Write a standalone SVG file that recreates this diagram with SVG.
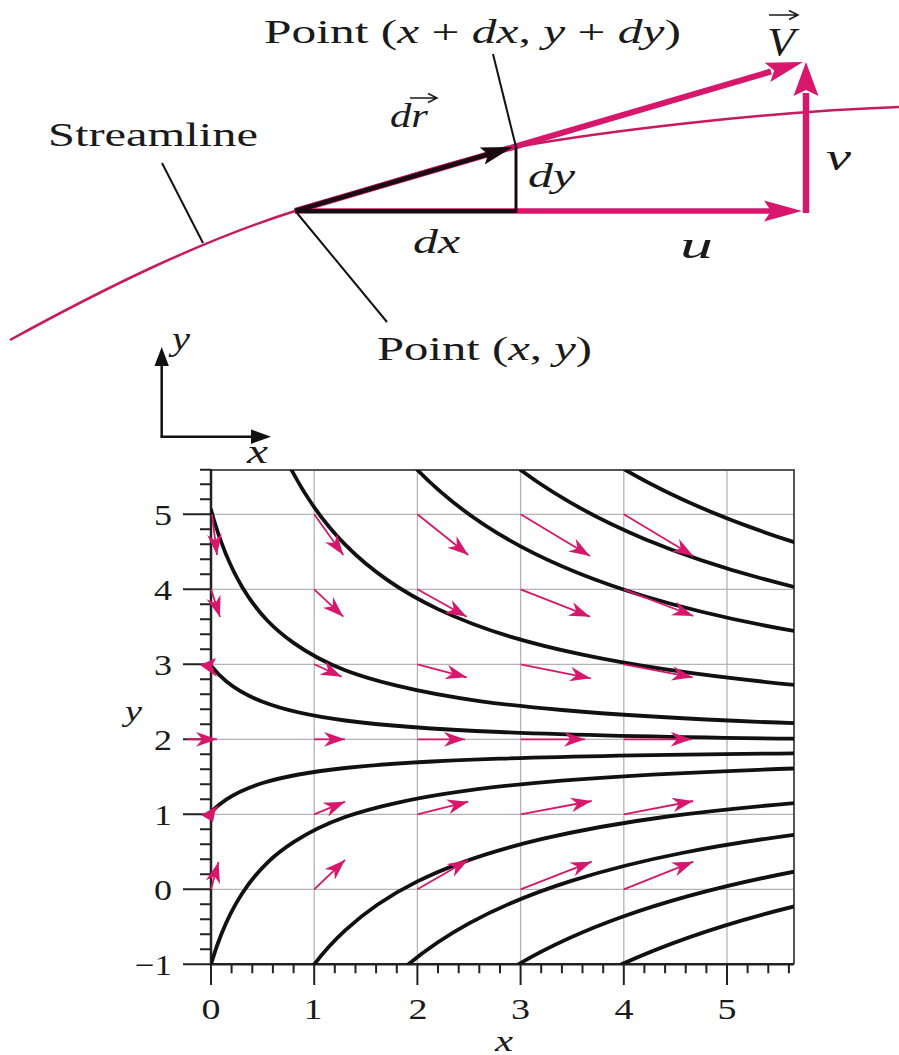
<svg xmlns="http://www.w3.org/2000/svg" width="899" height="1055" viewBox="0 0 899 1055">
<defs>
<style>
.t{font-family:"Liberation Serif","Times New Roman",serif;fill:#1a1a1a}
.it{font-style:italic}
.grid{stroke:#b4b4b4;stroke-width:1.3;fill:none}
.sl{fill:none;stroke:#111;stroke-width:3.8;stroke-linecap:round}
.vec{stroke:#d6176b;stroke-width:1.8;fill:none;marker-end:url(#ah)}
.tick{stroke:#222;stroke-width:2;fill:none}
.lead{stroke:#111;stroke-width:2;fill:none}
.pk{fill:#d6176b}
</style>
<marker id="ah" viewBox="0 0 20 14" refX="20" refY="7" markerWidth="21" markerHeight="15" markerUnits="userSpaceOnUse" orient="auto">
<path d="M0,0 L20,7 L0,14 L6,7 Z" fill="#d6176b"/>
</marker>
<clipPath id="plotclip"><rect x="211" y="470" width="583" height="494.3"/></clipPath>
</defs>
<rect width="899" height="1055" fill="#fff"/>

<g id="top-diagram">
  <path id="streamline-curve" d="M10,340 C105,288 200,241 295,211 C370,188 450,161 516,147 C600,132 760,112 899,107" fill="none" stroke="#c81a5e" stroke-width="2.5"/>
  <g id="vector-V">
    <line x1="295" y1="211" x2="771" y2="71.5" stroke="#d6176b" stroke-width="6"/>
    <polygon points="803,62 764.7,62.8 774.2,70.4 770.3,82" fill="#d6176b"/>
  </g>
  <g id="vector-u">
    <line x1="295" y1="211" x2="772" y2="211" stroke="#d6176b" stroke-width="5.5"/>
    <polygon points="802,211 764,200.5 771,211 764,221.5" fill="#d6176b"/>
  </g>
  <g id="vector-v">
    <line x1="806" y1="213" x2="806" y2="93" stroke="#d6176b" stroke-width="6.5"/>
    <polygon points="806,62 793.5,96 806,90 818.5,96" fill="#d6176b"/>
  </g>
  <g id="vector-dr">
    <line x1="295" y1="211" x2="489" y2="154" stroke="#1a0a10" stroke-width="4.5"/>
    <polygon points="513,147 479.8,147.4 488.1,154.3 484.8,164.6" fill="#1a0a10"/>
  </g>
  <line id="dx-line" x1="295" y1="211" x2="516" y2="211" stroke="#1a0a10" stroke-width="4"/>
  <line id="dy-line" x1="516" y1="147" x2="516" y2="212.5" stroke="#1a0a10" stroke-width="3"/>
  <g id="leaders">
    <line class="lead" x1="162" y1="163" x2="203" y2="243"/>
    <line class="lead" x1="297" y1="213" x2="387" y2="322"/>
    <line class="lead" x1="493" y1="54" x2="516" y2="147"/>
  </g>
  <g id="labels-top">
    <text class="t" x="264" y="43" font-size="34" textLength="417" lengthAdjust="spacingAndGlyphs">Point (<tspan class="it">x</tspan> + <tspan class="it">dx</tspan>, <tspan class="it">y</tspan> + <tspan class="it">dy</tspan>)</text>
    <text class="t" x="48" y="146" font-size="33" textLength="210" lengthAdjust="spacingAndGlyphs">Streamline</text>
    <g id="label-dr">
      <text class="t it" x="390" y="127" font-size="34" textLength="38" lengthAdjust="spacingAndGlyphs">dr</text>
      <path d="M410,98 H436 M428,93.5 L437,98 L428,102.5" stroke="#1a1a1a" stroke-width="1.5" fill="none"/>
    </g>
    <g id="label-V">
      <text class="t it" x="767" y="55" font-size="40" textLength="28" lengthAdjust="spacingAndGlyphs">V</text>
      <path d="M769,15 H797 M789,10.5 L798,15 L789,19.5" stroke="#1a1a1a" stroke-width="1.5" fill="none"/>
    </g>
    <text class="t it" x="528" y="187" font-size="33" textLength="47" lengthAdjust="spacingAndGlyphs">dy</text>
    <text class="t it" x="413" y="253" font-size="33" textLength="47" lengthAdjust="spacingAndGlyphs">dx</text>
    <text class="t it" x="680" y="258" font-size="38" textLength="33" lengthAdjust="spacingAndGlyphs">u</text>
    <text class="t it" x="826" y="170" font-size="38" textLength="25" lengthAdjust="spacingAndGlyphs">v</text>
    <text class="t" x="377" y="360" font-size="34" textLength="215" lengthAdjust="spacingAndGlyphs">Point (<tspan class="it">x</tspan>, <tspan class="it">y</tspan>)</text>
  </g>
</g>

<g id="axes-indicator">
  <line x1="161.7" y1="437" x2="161.7" y2="364" stroke="#111" stroke-width="2.5"/>
  <polygon points="161.7,347 154.5,366 168.9,366" fill="#111"/>
  <line x1="160.5" y1="436.7" x2="253" y2="436.7" stroke="#111" stroke-width="2.5"/>
  <polygon points="271,436.7 251,429.5 251,443.9" fill="#111"/>
  <text class="t it" x="172" y="350" font-size="34" textLength="18" lengthAdjust="spacingAndGlyphs">y</text>
  <text class="t it" x="247" y="463" font-size="34" textLength="21" lengthAdjust="spacingAndGlyphs">x</text>
</g>

<g id="plot">
  <g id="gridlines">
    <path class="grid" d="M314.2,470V964.3M417.4,470V964.3M520.6,470V964.3M623.8,470V964.3M727,470V964.3"/>
    <path class="grid" d="M211,889.3H794M211,814.3H794M211,739.3H794M211,664.3H794M211,589.3H794M211,514.3H794"/>
  </g>
  <g id="frame">
    <path d="M211,470H794V964.3" fill="none" stroke="#555" stroke-width="2"/>
    <path d="M211,469V964.3H794" fill="none" stroke="#222" stroke-width="2.5"/>
  </g>
  <g id="ticks">
    <path class="tick" d="M183,964.3H211M183,889.3H211M183,814.3H211M183,739.3H211M183,664.3H211M183,589.3H211M183,514.3H211"/>
    <path class="tick" d="M200,949.3h11M200,934.3h11M200,919.3h11M200,904.3h11M200,874.3h11M200,859.3h11M200,844.3h11M200,829.3h11M200,799.3h11M200,784.3h11M200,769.3h11M200,754.3h11M200,724.3h11M200,709.3h11M200,694.3h11M200,679.3h11M200,649.3h11M200,634.3h11M200,619.3h11M200,604.3h11M200,574.3h11M200,559.3h11M200,544.3h11M200,529.3h11M200,499.3h11M200,484.3h11M200,469.8h11"/>
    <path class="tick" d="M211,964.3V985M314.2,964.3V985M417.4,964.3V985M520.6,964.3V985M623.8,964.3V985M727,964.3V985"/>
    <path class="tick" d="M231.6,964.3v9M252.3,964.3v9M272.9,964.3v9M293.6,964.3v9M334.8,964.3v9M355.5,964.3v9M376.1,964.3v9M396.8,964.3v9M438,964.3v9M458.7,964.3v9M479.3,964.3v9M500,964.3v9M541.2,964.3v9M561.9,964.3v9M582.5,964.3v9M603.2,964.3v9M644.4,964.3v9M665.1,964.3v9M685.7,964.3v9M706.4,964.3v9M747.6,964.3v9M768.3,964.3v9M788.9,964.3v9"/>
  </g>
  <g id="tick-labels" class="t" font-size="30">
    <text x="172" y="525" text-anchor="end" textLength="18" lengthAdjust="spacingAndGlyphs">5</text>
    <text x="172" y="600" text-anchor="end" textLength="18" lengthAdjust="spacingAndGlyphs">4</text>
    <text x="172" y="674.5" text-anchor="end" textLength="18" lengthAdjust="spacingAndGlyphs">3</text>
    <text x="172" y="749.5" text-anchor="end" textLength="18" lengthAdjust="spacingAndGlyphs">2</text>
    <text x="172" y="824.5" text-anchor="end" textLength="18" lengthAdjust="spacingAndGlyphs">1</text>
    <text x="172" y="899.5" text-anchor="end" textLength="18" lengthAdjust="spacingAndGlyphs">0</text>
    <text x="172" y="974.5" text-anchor="end" textLength="37" lengthAdjust="spacingAndGlyphs">−1</text>
    <text x="211" y="1019" text-anchor="middle" textLength="19" lengthAdjust="spacingAndGlyphs">0</text>
    <text x="313" y="1019" text-anchor="middle" textLength="19" lengthAdjust="spacingAndGlyphs">1</text>
    <text x="418" y="1019" text-anchor="middle" textLength="19" lengthAdjust="spacingAndGlyphs">2</text>
    <text x="520.6" y="1019" text-anchor="middle" textLength="19" lengthAdjust="spacingAndGlyphs">3</text>
    <text x="624" y="1019" text-anchor="middle" textLength="19" lengthAdjust="spacingAndGlyphs">4</text>
    <text x="727" y="1019" text-anchor="middle" textLength="19" lengthAdjust="spacingAndGlyphs">5</text>
    <text class="it" x="125" y="721" textLength="17" lengthAdjust="spacingAndGlyphs">y</text>
    <text class="it" x="495" y="1051" textLength="18" lengthAdjust="spacingAndGlyphs">x</text>
  </g>
  <g id="streamlines" clip-path="url(#plotclip)">
    <path class="sl" d="M625.45,470.05 C681.7,502.5 737.9,524.3 794.08,542.1"/>
    <path class="sl" d="M520.6,470.07 C561.9,500.6 603.2,521.7 644.44,538.9 C694.3,559.7 744.2,574.6 794.08,586.94"/>
    <path class="sl" d="M417.4,470 C451.8,505.1 486.2,528 520.6,546.4 C561.9,568.5 603.2,583.7 644.44,596.2 C694.3,611.3 744.2,622.1 794.08,631"/>
    <path class="sl" d="M291.6,470.1 C309.45,504.1 327.35,526.5 345.2,544.7 C376.2,576.2 407,594.5 438,609.1 C486.2,631.9 534.3,644.5 582.5,654.7 C653,669.6 723.6,678.05 794.08,684.8"/>
    <path class="sl" d="M211,509.8 C221.32,547.7 231.64,569.4 241.96,586.7 C259.16,615.5 276.36,630.7 293.56,642.85 C327.96,667.2 362.36,677.3 396.76,685.7 C451.8,699.1 506.84,705.1 561.88,710 C639.28,716.9 716.68,720.4 794.08,723.2"/>
    <path class="sl" d="M211,665.8 C216.16,672.3 221.32,677.3 226.48,681.5 C238.52,691.3 250.56,697.1 262.6,701.8 C290.12,712.5 317.64,716.9 345.16,720.5 C396.76,727.3 448.36,729.8 499.96,732 C598,736.1 696.04,737.5 794.08,738.7"/>
    <path class="sl" d="M211,812.05 C216.16,806.8 221.32,802.8 226.48,799.4 C238.52,791.5 250.56,786.8 262.6,783.05 C290.12,774.5 317.64,770.9 345.16,768 C396.76,762.5 448.36,760.4 499.96,758.7 C598,755.4 696.04,754.3 794.08,753.3"/>
    <path class="sl" d="M211,964.3 C214.44,952.7 217.88,942.9 221.32,934.3 C228.2,917.1 235.08,904.4 241.96,893.8 C259.16,867.3 276.36,853.4 293.56,842.2 C327.96,819.9 362.36,810.6 396.76,802.9 C451.8,790.6 506.84,785.1 561.88,780.6 C639.28,774.3 716.68,771.1 794.08,768.5"/>
    <path class="sl" d="M314.2,964.3 C324.52,950.9 334.84,939.9 345.16,930.4 C369.24,908.1 393.32,893.4 417.4,881.4 C458.68,860.9 499.96,848.9 541.24,839.2 C625.52,819.5 709.8,810.4 794.08,803.1"/>
    <path class="sl" d="M408.4,964.3 C428.6,947.5 448.8,934.5 469,923.4 C503.4,904.6 537.8,891.4 572.2,880.6 C646.16,857.4 720.12,844.8 794.08,834.8"/>
    <path class="sl" d="M518.4,964.3 C553.5,943.75 588.7,928.8 623.8,916.3 C680.56,896.15 737.32,882.65 794.08,871.7"/>
    <path class="sl" d="M621.6,964.3 C679.1,937.98 736.6,920.6 794.08,906.4"/>
  </g>
  <g id="velocity-vectors">
    <line class="vec" x1="212" y1="514.3" x2="217" y2="555"/>
    <line class="vec" x1="211" y1="589.3" x2="220" y2="617"/>
    <polygon class="pk" points="200,665 216,658 212,666 217,677"/>
    <line class="vec" x1="187" y1="739.3" x2="217" y2="739.3"/>
    <polygon class="pk" points="201,815 219,805 215,812 213,822"/>
    <line class="vec" x1="211" y1="889.3" x2="218.5" y2="862"/>
    <line class="vec" x1="314.2" y1="514.3" x2="343.3" y2="555"/>
    <line class="vec" x1="314.2" y1="589.3" x2="343.3" y2="616.7"/>
    <line class="vec" x1="314.2" y1="664.3" x2="341.7" y2="676.7"/>
    <line class="vec" x1="314.2" y1="739.3" x2="345" y2="739.3"/>
    <line class="vec" x1="314.2" y1="814.3" x2="345" y2="801.7"/>
    <line class="vec" x1="314.2" y1="889.3" x2="345" y2="860"/>
    <line class="vec" x1="417.4" y1="514.3" x2="468.3" y2="555"/>
    <line class="vec" x1="417.4" y1="589.3" x2="466.7" y2="616.7"/>
    <line class="vec" x1="417.4" y1="664.3" x2="466.7" y2="677.3"/>
    <line class="vec" x1="417.4" y1="739.3" x2="465" y2="739.3"/>
    <line class="vec" x1="417.4" y1="814.3" x2="468.3" y2="801.7"/>
    <line class="vec" x1="417.4" y1="889.3" x2="468.3" y2="860"/>
    <line class="vec" x1="520.6" y1="514.3" x2="590" y2="556"/>
    <line class="vec" x1="520.6" y1="589.3" x2="590" y2="616.7"/>
    <line class="vec" x1="520.6" y1="664.3" x2="590.7" y2="678.3"/>
    <line class="vec" x1="520.6" y1="739.3" x2="585" y2="739.3"/>
    <line class="vec" x1="520.6" y1="814.3" x2="591.7" y2="801"/>
    <line class="vec" x1="520.6" y1="889.3" x2="591.7" y2="861.7"/>
    <line class="vec" x1="623.8" y1="514.3" x2="693.3" y2="556"/>
    <line class="vec" x1="623.8" y1="589.3" x2="693.3" y2="616"/>
    <line class="vec" x1="623.8" y1="664.3" x2="692.7" y2="677.3"/>
    <line class="vec" x1="623.8" y1="739.3" x2="691.7" y2="739.3"/>
    <line class="vec" x1="623.8" y1="814.3" x2="693.3" y2="801"/>
    <line class="vec" x1="623.8" y1="889.3" x2="693.3" y2="861.7"/>
  </g>
</g>
</svg>
